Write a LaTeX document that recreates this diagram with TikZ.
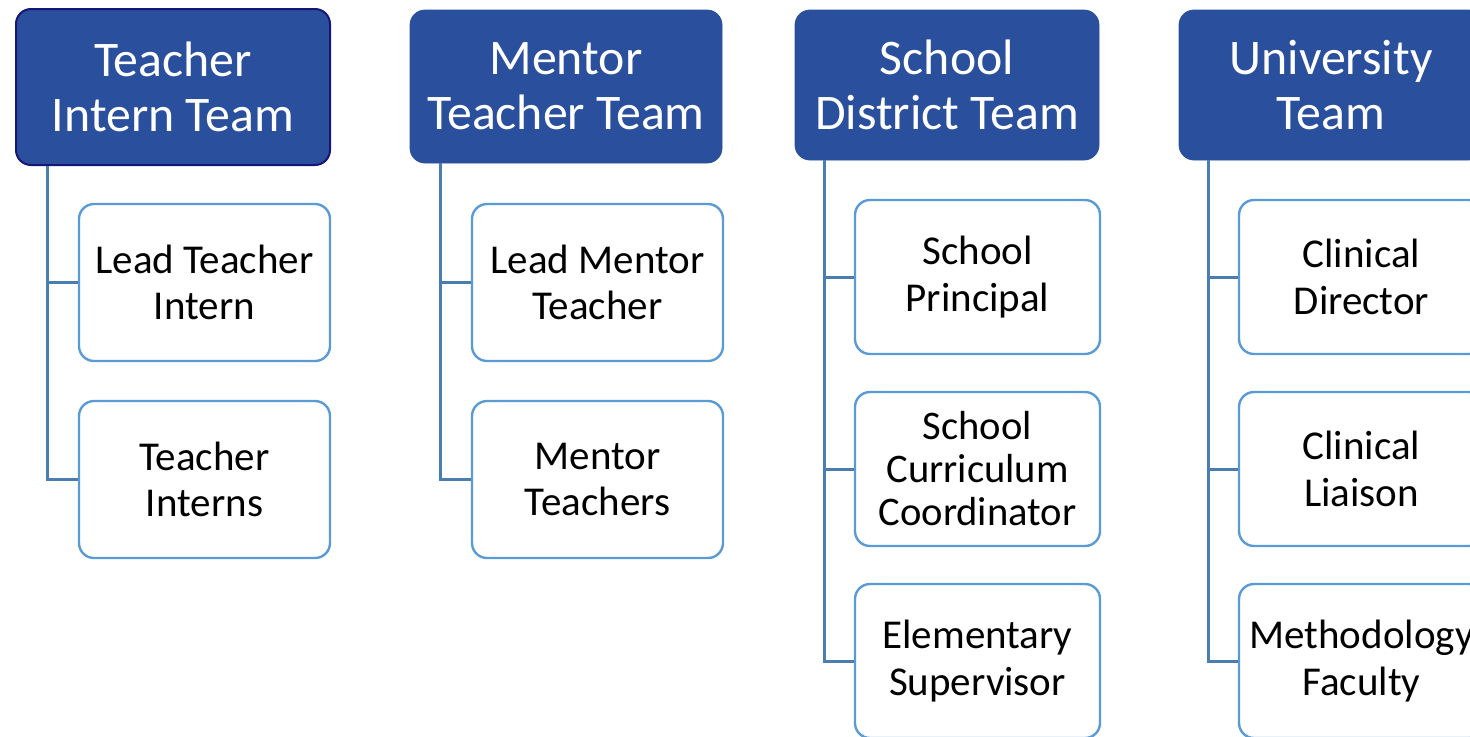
\documentclass[tikz,border=0pt]{standalone}
\usepackage{fontspec}
\setmainfont{Carlito}
\usepackage{tikz}

\definecolor{teamblue}{RGB}{42,79,157}
\definecolor{navyedge}{RGB}{22,22,120}
\definecolor{boxblue}{RGB}{91,155,213}
\definecolor{linkblue}{RGB}{74,126,176}

\begin{document}
\begin{tikzpicture}[x=0.5pt,y=-0.5pt,
    team/.style={rectangle,rounded corners=7.5pt,fill=teamblue,draw=teamblue,text=white,align=center,
        font=\fontsize{24.9}{27.5}\selectfont,minimum width=152pt,minimum height=75pt,inner sep=0pt},
    member/.style={rectangle,rounded corners=7.5pt,draw=boxblue,line width=1.2pt,fill=white,align=center,
        font=\fontsize{20.5}{23.3}\selectfont,minimum width=125.5pt,minimum height=78.5pt,inner sep=0pt},
    narrow/.style={minimum width=122.5pt,minimum height=77pt},
    link/.style={draw=linkblue,line width=1.5pt}]
    \useasboundingbox (0,0) rectangle (1470,736);
    \clip (0,0) rectangle (1470,736);

    % team headers
    \node[team,draw=navyedge,line width=1pt,minimum width=157pt,minimum height=78pt] (intern) at (173,87) {Teacher\\Intern Team};
    \node[team,minimum width=156pt,minimum height=76.5pt] (mentor) at (566,86.5) {Mentor\\Teacher Team};
    \node[team] (district) at (947,85) {School\\District Team};
    \node[team] (univ) at (1331,85) {University\\Team};

    % members
    \node[member] (leadintern) at (204.5,282.5) {Lead Teacher\\Intern};
    \node[member] (interns) at (204.5,479.5) {Teacher\\Interns};
    \node[member] (leadmentor) at (597.5,282.5) {Lead Mentor\\Teacher};
    \node[member] (mentors) at (597.5,479.5) {Mentor\\Teachers};
    \node[member,narrow] (principal) at (977.5,277) {School\\Principal};
    \node[member,narrow,font=\fontsize{20.3}{21.5}\selectfont] (curric) at (977.5,469) {School\\Curriculum\\Coordinator};
    \node[member,narrow] (elem) at (977.5,661) {Elementary\\Supervisor};
    \node[member,narrow] (director) at (1361.5,277) {Clinical\\Director};
    \node[member,narrow] (liaison) at (1361.5,469) {Clinical\\Liaison};
    \node[member,narrow] (faculty) at (1361.5,661) {Methodology\\Faculty};

    % trunks
    \coordinate (t1) at (47,166);
    \coordinate (t2) at (440,163);
    \coordinate (t3) at (824,160);
    \coordinate (t4) at (1208,160);

    \draw[link] (t1) |- (leadintern.west);
    \draw[link] (t1) |- (interns.west);
    \draw[link] (t2) |- (leadmentor.west);
    \draw[link] (t2) |- (mentors.west);
    \draw[link] (t3) |- (principal.west);
    \draw[link] (t3) |- (curric.west);
    \draw[link] (t3) |- (elem.west);
    \draw[link] (t4) |- (director.west);
    \draw[link] (t4) |- (liaison.west);
    \draw[link] (t4) |- (faculty.west);
\end{tikzpicture}
\end{document}
